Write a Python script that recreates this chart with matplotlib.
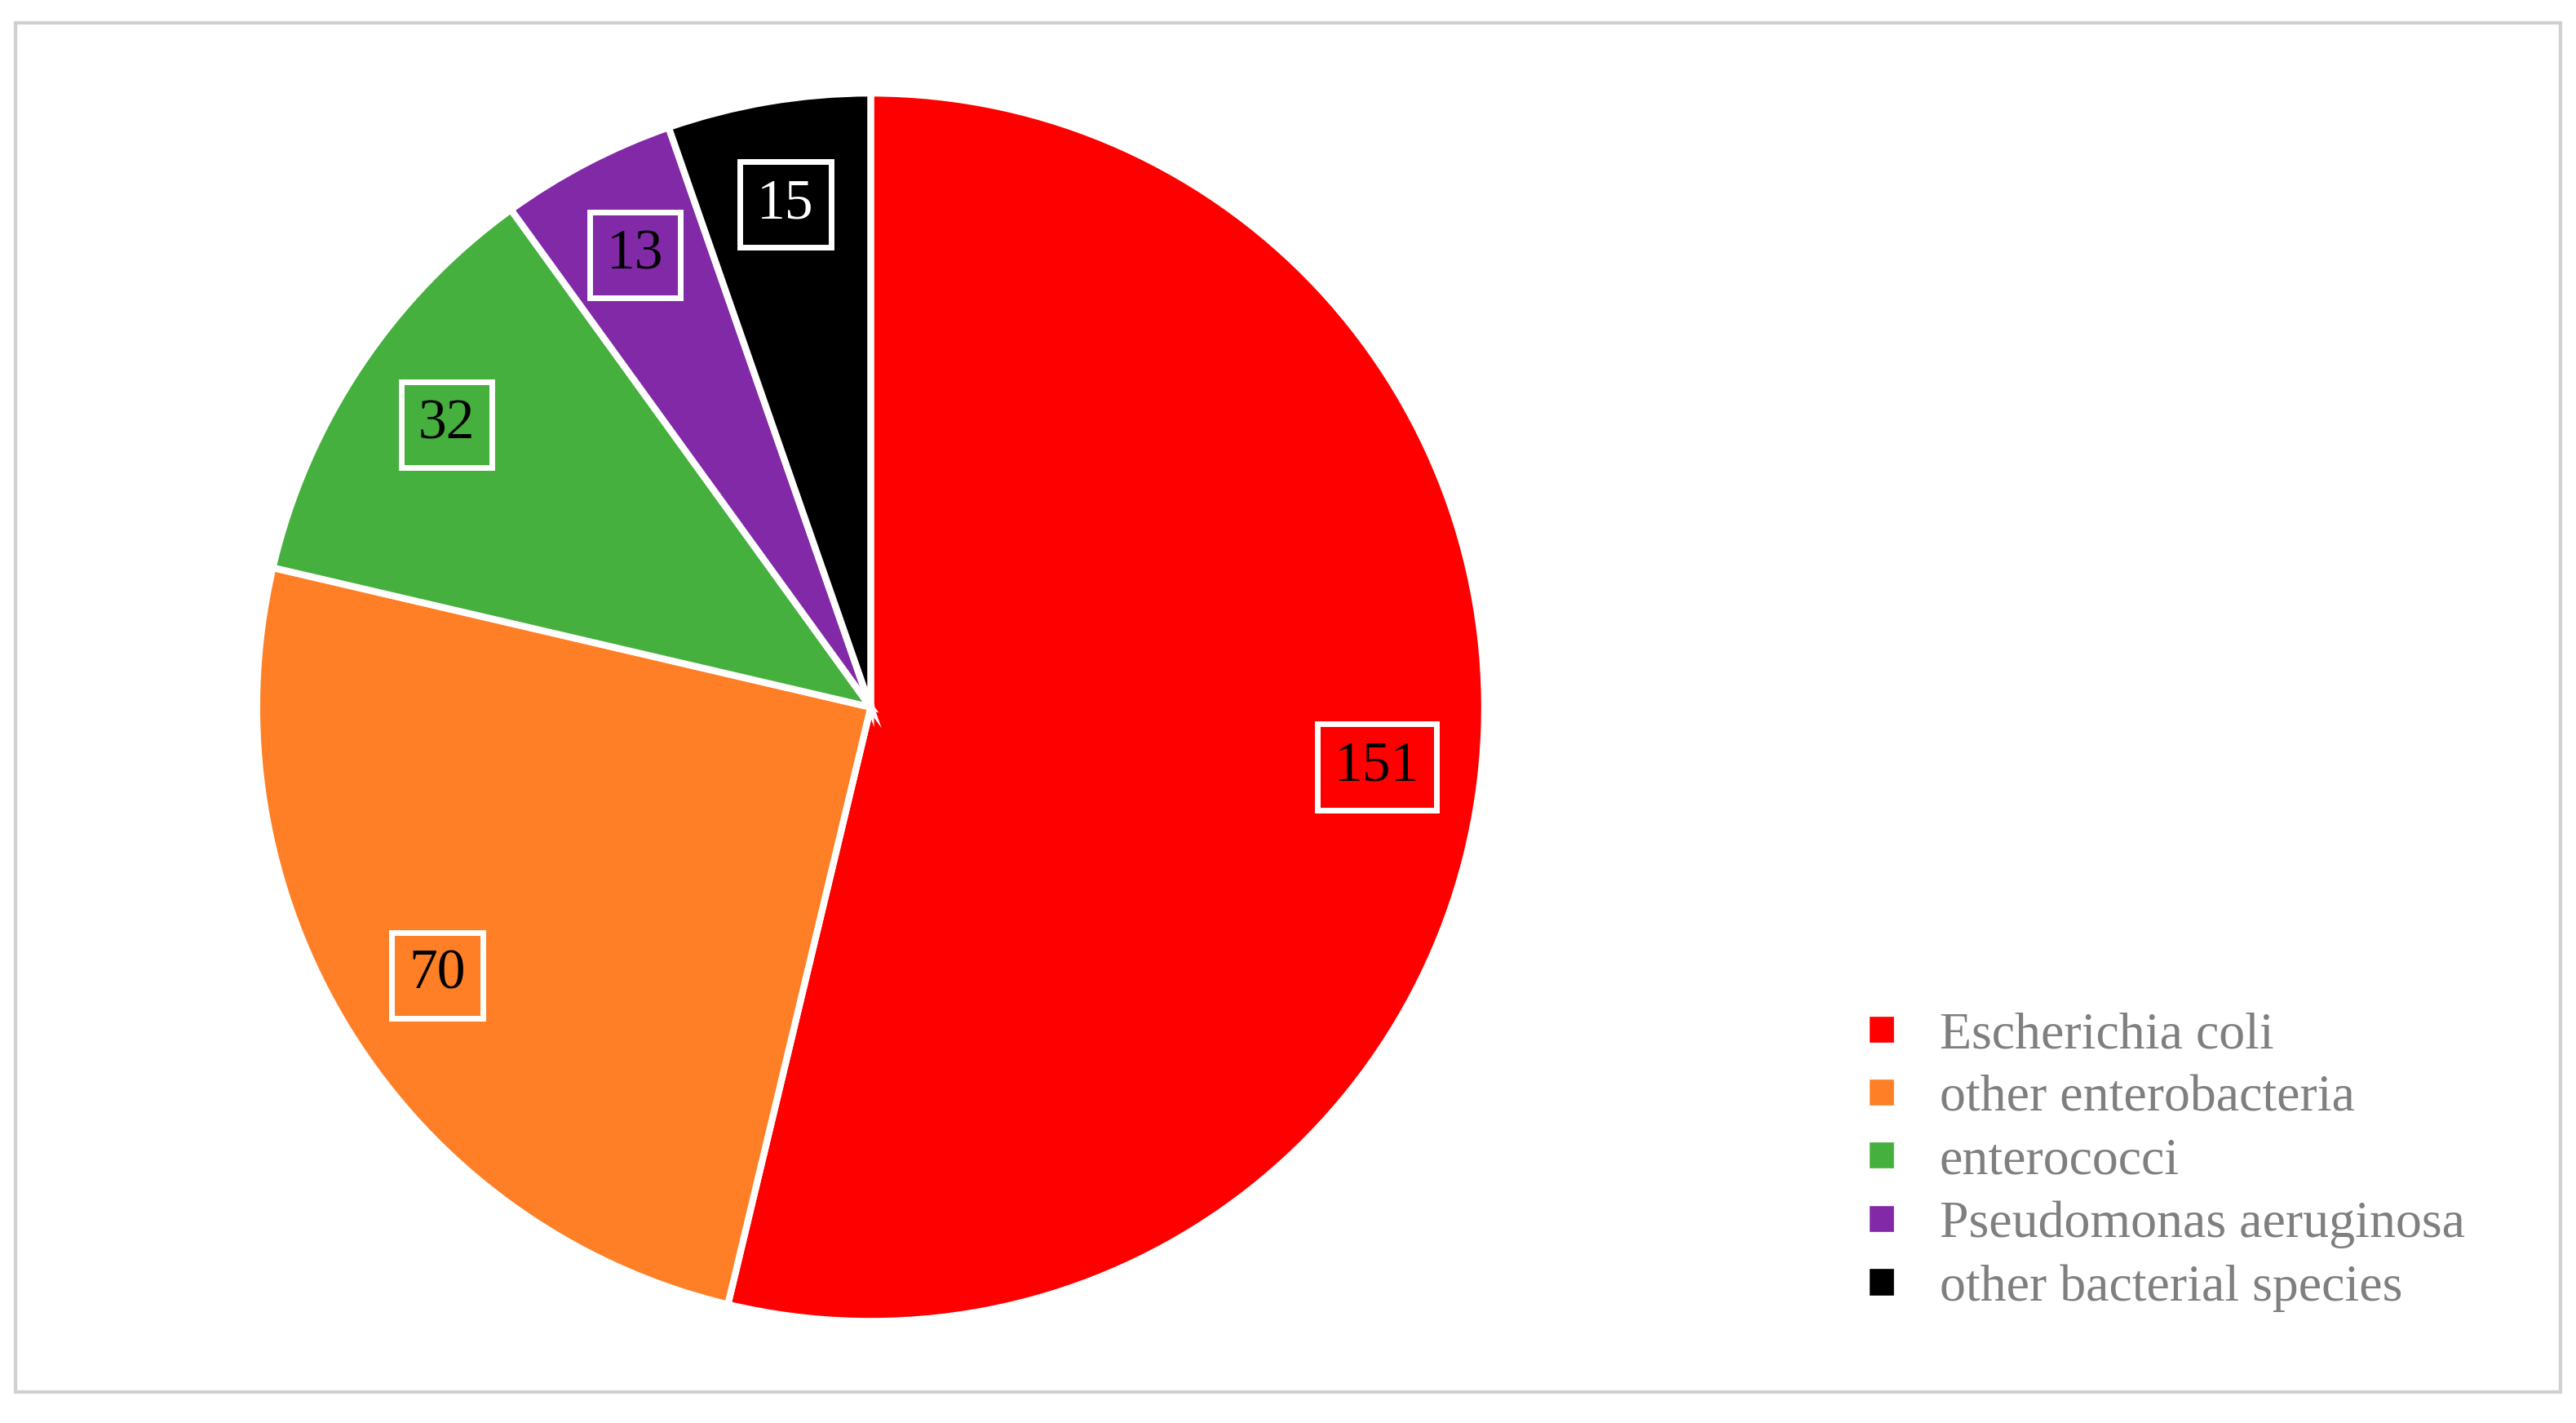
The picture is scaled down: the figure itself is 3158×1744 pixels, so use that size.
import matplotlib.pyplot as plt
from matplotlib.patches import Rectangle

species = ["Escherichia coli", "other enterobacteria", "enterococci",
           "Pseudomonas aeruginosa", "other bacterial species"]
counts = [151, 70, 32, 13, 15]
colors = ["#ff0000", "#ff7f27", "#45b03d", "#8229a8", "#000000"]
label_colors = ["black", "black", "black", "black", "white"]

plt.rcParams['font.family'] = ['Liberation Serif', 'DejaVu Serif']

fig = plt.figure(figsize=(15.79, 8.72), dpi=200)
# thin grey frame around the whole picture
fig.patches.append(Rectangle((0.006, 0.022), 0.988, 0.962, transform=fig.transFigure,
                             fill=False, edgecolor="#d0d0d0", linewidth=1.5))

ax = fig.add_axes([0.338 - 0.2407, 0.503 - 0.436, 0.4814, 0.872])
total = sum(counts)
wedges, texts, autotexts = ax.pie(
    counts, colors=colors, startangle=90, counterclock=False, radius=1,
    autopct=lambda p: f"{round(p * total / 100)}", pctdistance=0.83,
    wedgeprops=dict(edgecolor="white", linewidth=3))
for t, fc, c in zip(autotexts, colors, label_colors):
    t.set_fontsize(25)
    t.set_color(c)
    t.set_bbox(dict(boxstyle="square,pad=0.3", facecolor=fc, edgecolor="white", linewidth=2.5))
ax.set_xlim(-1.01, 1.01)
ax.set_ylim(-1.01, 1.01)
ax.set_aspect("equal")

fig.legend(wedges, species, loc="lower right", bbox_to_anchor=(0.975, 0.045),
           frameon=False, fontsize=23, labelcolor="#7f7f7f",
           handlelength=0.6, handleheight=0.6, handletextpad=0.8, labelspacing=0.3)

fig.savefig("out.png", dpi=200)
